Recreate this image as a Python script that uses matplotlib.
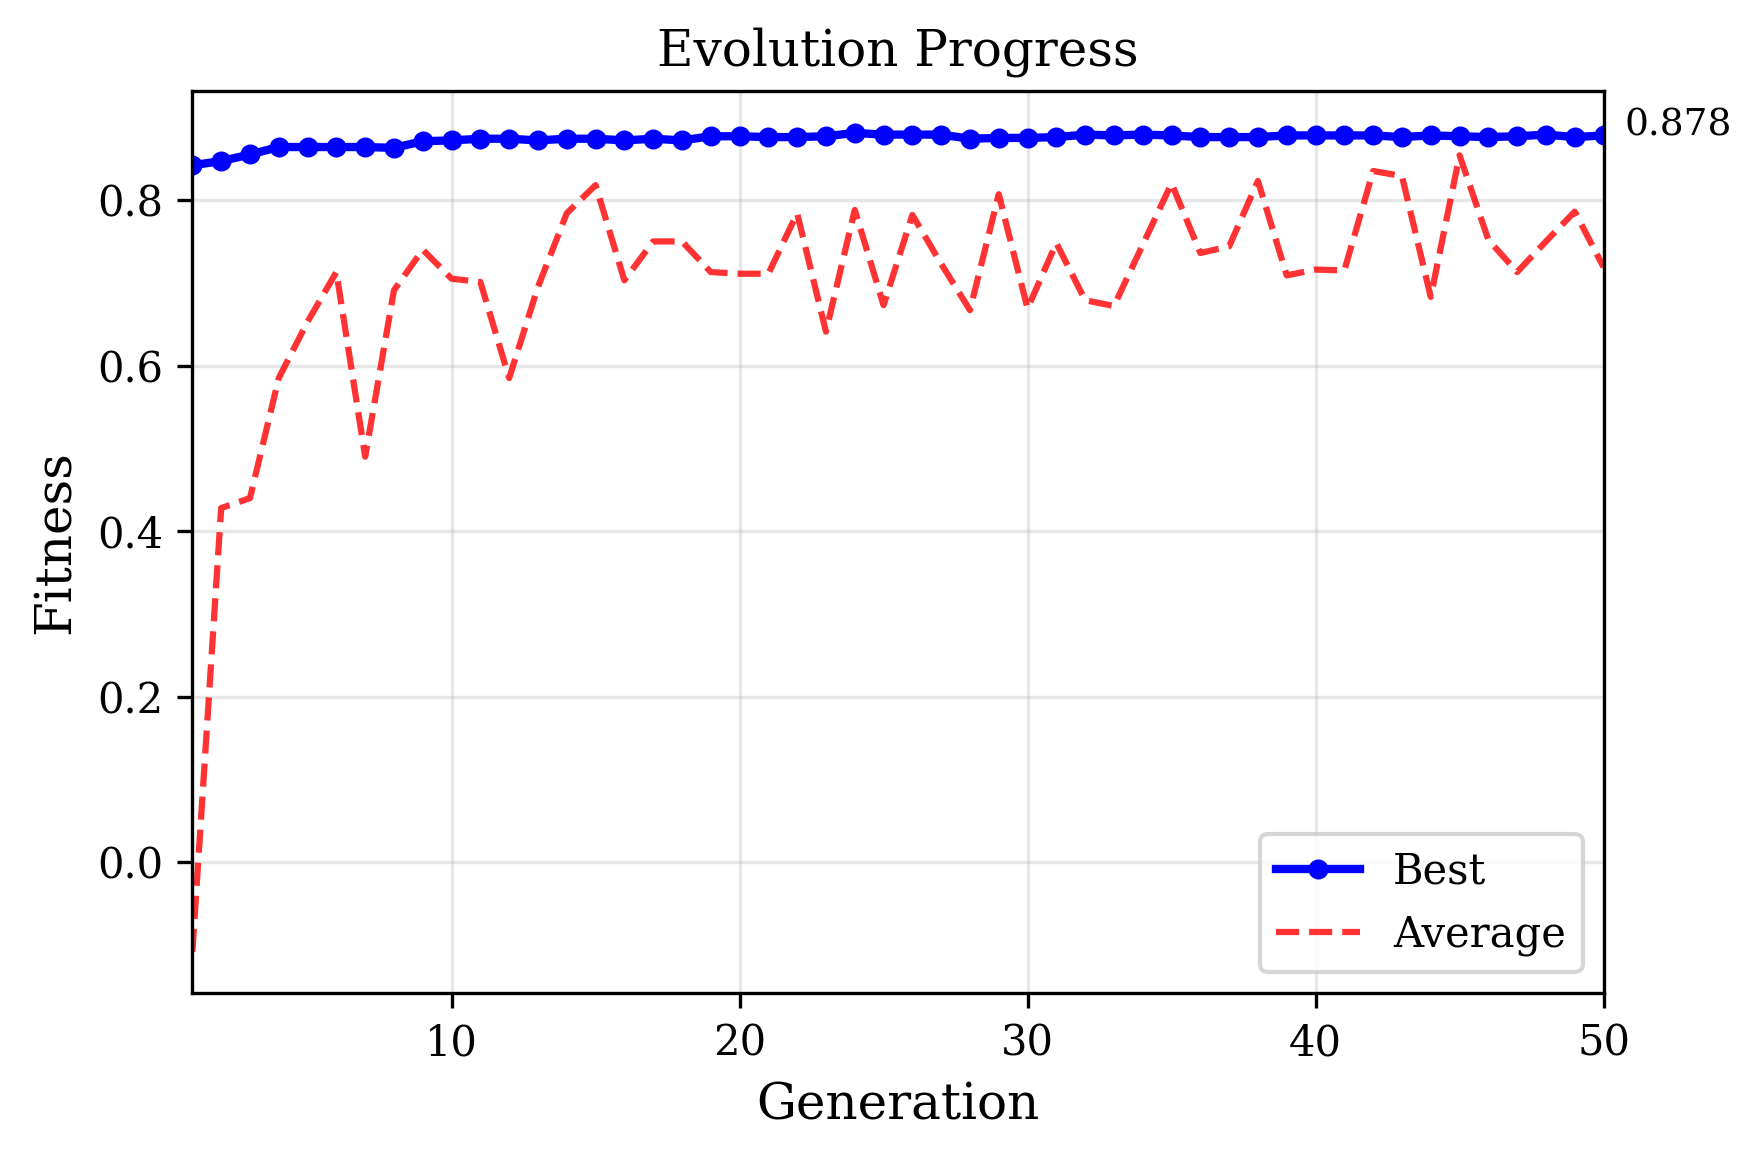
import matplotlib
matplotlib.use("Agg")
import matplotlib.pyplot as plt

plt.rcParams['font.family'] = ['DejaVu Serif']

generations = list(range(1, 51))
best_fitness = [
    0.842, 0.847, 0.855, 0.864, 0.864, 0.864, 0.864, 0.863, 0.871, 0.872,
    0.874, 0.874, 0.872, 0.874, 0.874, 0.872, 0.874, 0.872, 0.877, 0.877,
    0.876, 0.876, 0.877, 0.881, 0.879, 0.879, 0.879, 0.874, 0.875, 0.875,
    0.876, 0.879, 0.878, 0.879, 0.878, 0.876, 0.876, 0.876, 0.878, 0.878,
    0.878, 0.878, 0.876, 0.878, 0.877, 0.876, 0.877, 0.879, 0.876, 0.878,
]
avg_fitness = [
    -0.108, 0.428, 0.440, 0.585, 0.653, 0.713, 0.490, 0.691, 0.740, 0.705,
    0.701, 0.585, 0.695, 0.784, 0.818, 0.703, 0.750, 0.750, 0.713, 0.711,
    0.711, 0.784, 0.641, 0.788, 0.673, 0.782, 0.723, 0.667, 0.807, 0.669,
    0.748, 0.679, 0.672, 0.746, 0.820, 0.736, 0.744, 0.823, 0.709, 0.716,
    0.715, 0.835, 0.829, 0.683, 0.854, 0.752, 0.713, 0.750, 0.786, 0.719,
]

fig = plt.figure(figsize=(1760 / 300, 1160 / 300), dpi=300)
ax = fig.add_axes([0.1093, 0.1437, 0.9111 - 0.1093, 0.9218 - 0.1437])

ax.plot(generations, best_fitness, color='blue', linestyle='-', marker='o',
        linewidth=2, markersize=3.8, label='Best')
ax.plot(generations, avg_fitness, color='red', linestyle='--', alpha=0.8,
        linewidth=1.5, label='Average')

ax.annotate(f'{best_fitness[-1]:.3f}', xy=(generations[-1], best_fitness[-1]),
            xytext=(5, 0), textcoords='offset points', fontsize=9,
            annotation_clip=False)

ax.set_xlim(1, 50)
ax.set_ylim(-0.158, 0.932)
ax.set_xlabel('Generation', fontsize=12)
ax.set_ylabel('Fitness', fontsize=12)
ax.set_title('Evolution Progress', fontsize=12)
ax.grid(True, alpha=0.3)
ax.legend(loc='lower right', fontsize=10)

fig.savefig('out.png', dpi=300)
